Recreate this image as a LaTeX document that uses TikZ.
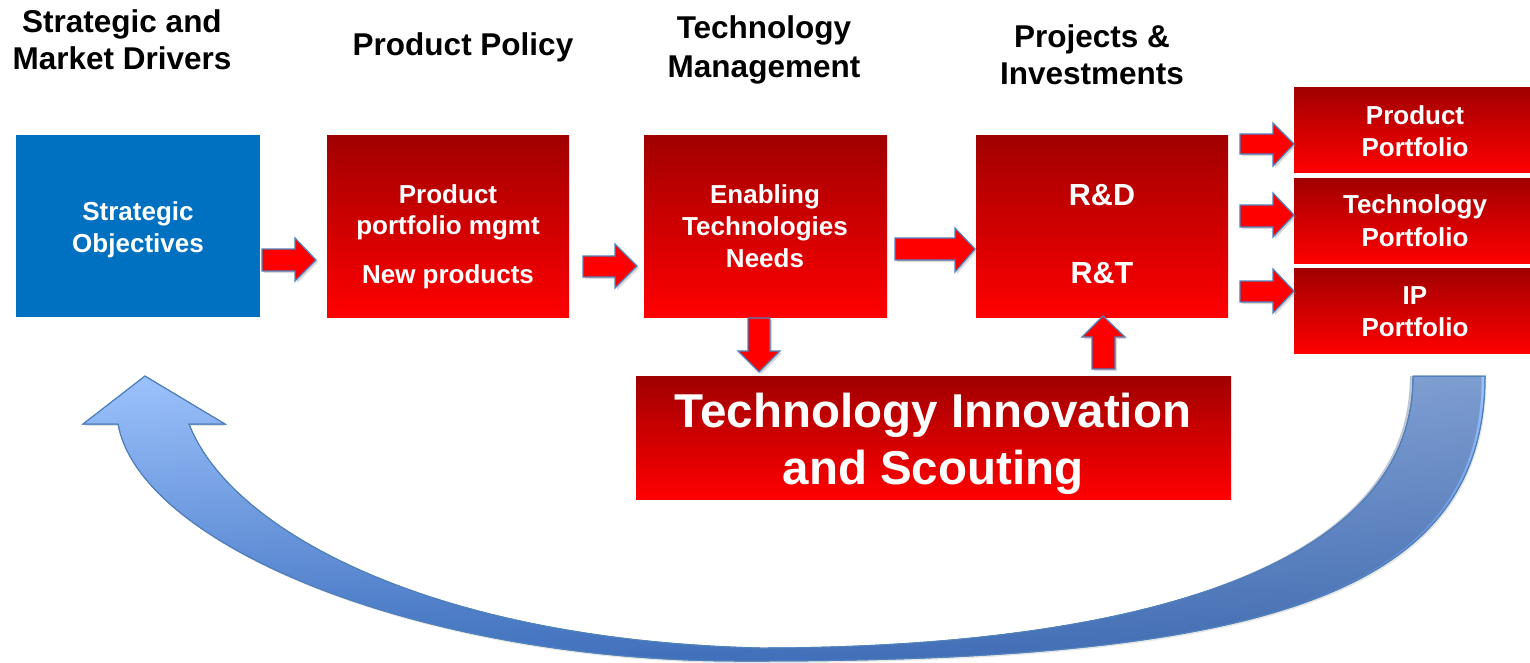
\documentclass[tikz,border=0pt]{standalone}
\usepackage{fontspec}
\setmainfont{Liberation Sans}
\usetikzlibrary{shadows,fadings}
\definecolor{boxblue}{RGB}{0,112,192}
\definecolor{redtop}{RGB}{160,0,0}
\definecolor{redbot}{RGB}{255,0,0}
\definecolor{arrowedge}{RGB}{79,129,189}
\definecolor{arclight}{RGB}{158,196,254}
\definecolor{arcdark}{RGB}{64,116,198}
\definecolor{arcgray}{RGB}{70,90,130}
\begin{document}
\begin{tikzpicture}[x=1pt,y=-1pt,
  box/.style={draw=none, inner sep=0pt, outer sep=0pt, anchor=north west},
  redbox/.style={box, top color=redtop, bottom color=redbot},
  bluebox/.style={box, fill=boxblue},
  title/.style={font=\fontsize{31.5}{37}\selectfont\bfseries, text=black, inner sep=0pt, anchor=base},
  boxtext/.style={font=\fontsize{26}{31}\selectfont\bfseries, text=white, inner sep=0pt, anchor=base},
  rdtext/.style={font=\fontsize{30.5}{36}\selectfont\bfseries, text=white, inner sep=0pt, anchor=base},
  bigtext/.style={font=\fontsize{47.5}{57}\selectfont\bfseries, text=white, inner sep=0pt, anchor=base},
  blockarrow/.style={fill=red, draw=arrowedge, line width=1.2pt, line join=miter,
    drop shadow={opacity=0.3, shadow xshift=2pt, shadow yshift=-2pt}},
  bigarrow/.style={top color=arclight, bottom color=arcdark, draw=arrowedge, line width=1pt,
    drop shadow={opacity=0.2, shadow xshift=1.5pt, shadow yshift=-2pt}},
  arctint/.style={fill=arcgray, fill opacity=0.37, path fading=west}
]
\useasboundingbox (0,0) rectangle (1530,662);
\fill[white] (0,0) rectangle (1530,662);

% column titles
\node[title] (t1a) at (122,32) {Strategic and};
\node[title] (t1b) at (122,69) {Market Drivers};
\node[title] (t2a) at (463,55) {Product Policy};
\node[title] (t3a) at (764,38) {Technology};
\node[title] (t3b) at (764,77) {Management};
\node[title] (t4a) at (1092,47) {Projects \&};
\node[title] (t4b) at (1092,84) {Investments};

% boxes
\node[bluebox, minimum width=244pt, minimum height=182pt] (b0) at (16,135) {};
\node[redbox, minimum width=242pt, minimum height=182pt] (b1) at (327,135) {};
\node[redbox, minimum width=243pt, minimum height=182pt] (b2) at (644,135) {};
\node[redbox, minimum width=252pt, minimum height=182pt] (b3) at (976,135) {};
\node[redbox, minimum width=236pt, minimum height=85pt] (p1) at (1294,87) {};
\node[redbox, minimum width=236pt, minimum height=85pt] (p2) at (1294,178) {};
\node[redbox, minimum width=236pt, minimum height=85pt] (p3) at (1294,268) {};
\node[redbox, minimum width=595pt, minimum height=123pt] (tis) at (636,376) {};

% box texts
\node[boxtext] (b0a) at (138,220) {Strategic};
\node[boxtext] (b0b) at (138,252) {Objectives};
\node[boxtext] (b1a) at (448,203) {Product};
\node[boxtext] (b1b) at (448,234) {portfolio mgmt};
\node[boxtext] (b1c) at (448,283) {New products};
\node[boxtext] (b2a) at (765,203) {Enabling};
\node[boxtext] (b2b) at (765,235) {Technologies};
\node[boxtext] (b2c) at (765,267) {Needs};
\node[rdtext] (b3a) at (1102,205) {R\&D};
\node[rdtext] (b3b) at (1102,283) {R\&T};
\node[boxtext] (p1a) at (1415,124) {Product};
\node[boxtext] (p1b) at (1415,156) {Portfolio};
\node[boxtext] (p2a) at (1415,213) {Technology};
\node[boxtext] (p2b) at (1415,246) {Portfolio};
\node[boxtext] (p3a) at (1415,304) {IP};
\node[boxtext] (p3b) at (1415,336) {Portfolio};
\node[bigtext] (tisa) at (933,427) {Technology Innovation};
\node[bigtext] (tisb) at (933,484) {and Scouting};

% block arrows
\draw[blockarrow] (262,249) -- (295,249) -- (295,238) -- (316,260) -- (295,281) -- (295,271) -- (262,271) -- cycle;
\draw[blockarrow] (583,256) -- (615,256) -- (615,244) -- (637,266) -- (615,288) -- (615,277) -- (583,277) -- cycle;
\draw[blockarrow] (895,238) -- (955,238) -- (955,228) -- (975,249) -- (955,272) -- (955,260) -- (895,260) -- cycle;
\draw[blockarrow] (1240,134) -- (1273,134) -- (1273,123) -- (1294,144) -- (1273,166) -- (1273,154) -- (1240,154) -- cycle;
\draw[blockarrow] (1240,205) -- (1273,205) -- (1273,193) -- (1294,215) -- (1273,237) -- (1273,227) -- (1240,227) -- cycle;
\draw[blockarrow] (1240,281) -- (1273,281) -- (1273,269) -- (1294,291) -- (1273,313) -- (1273,302) -- (1240,302) -- cycle;
\draw[blockarrow] (748,318) -- (748,351) -- (738,351) -- (759,372) -- (780,351) -- (770,351) -- (770,318) -- cycle;
\draw[blockarrow] (1092,369) -- (1092,337) -- (1082,337) -- (1103,316) -- (1125,337) -- (1115,337) -- (1115,369) -- cycle;

% big curved feedback arrow
\draw[bigarrow] (1485,376) .. controls (1485,600) and (1250,662) .. (740,661)
  .. controls (420,661) and (140,545) .. (118,424)
  -- (83,424) -- (145,376) -- (225,424) -- (189,424)
  .. controls (230,530) and (430,640) .. (760,648)
  .. controls (1100,648) and (1414,580) .. (1413,376) -- cycle;
\fill[arctint] (1485,376) .. controls (1485,600) and (1250,662) .. (740,661)
  .. controls (420,661) and (140,545) .. (118,424)
  -- (83,424) -- (145,376) -- (225,424) -- (189,424)
  .. controls (230,530) and (430,640) .. (760,648)
  .. controls (1100,648) and (1414,580) .. (1413,376) -- cycle;
\draw[draw=arrowedge, line width=1pt] (1485,376) .. controls (1485,600) and (1250,662) .. (740,661)
  .. controls (420,661) and (140,545) .. (118,424)
  -- (83,424) -- (145,376) -- (225,424) -- (189,424)
  .. controls (230,530) and (430,640) .. (760,648)
  .. controls (1100,648) and (1414,580) .. (1413,376) -- cycle;
\end{tikzpicture}
\end{document}
